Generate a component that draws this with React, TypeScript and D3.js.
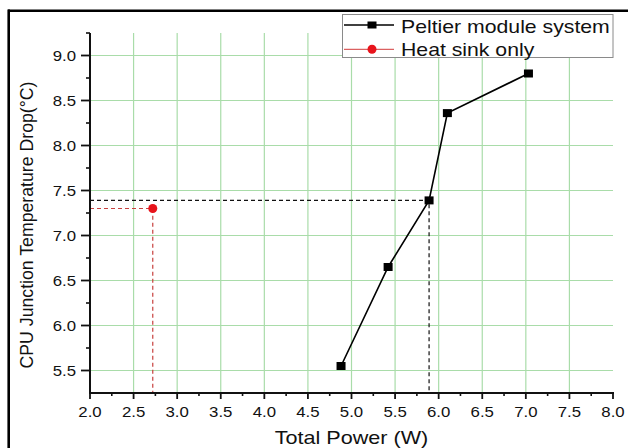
import React, { useEffect, useRef } from 'react'
import * as d3 from 'd3'

// Peltier module system
const peltierPower = [4.88, 5.42, 5.89, 6.1, 7.03]
const peltierDrop = [5.55, 6.65, 7.39, 8.36, 8.8]

// heat sink only
const sinkPower = [2.72]
const sinkDrop = [7.3]

const xTicks = [2.0, 2.5, 3.0, 3.5, 4.0, 4.5, 5.0, 5.5, 6.0, 6.5, 7.0, 7.5, 8.0]
const yTicks = [5.5, 6.0, 6.5, 7.0, 7.5, 8.0, 8.5, 9.0]
const legendLabels = ['Peltier module system', 'Heat sink only']

const FONT = '"Liberation Sans", Arial, sans-serif'
const GRID = '#a9dca9'

export default function App() {
  const anchor = useRef<SVGSVGElement>(null)

  useEffect(() => {
    const svg = d3.select(anchor.current)
    svg.selectAll('*').remove()

    const x = d3.scaleLinear().domain([2, 8]).range([90, 613])
    const y = d3.scaleLinear().domain([5.25, 9.25]).range([393, 33])

    // outer frame (only top and left edges visible)
    svg.append('line').attr('x1', 8).attr('x2', 628).attr('y1', 10.7).attr('y2', 10.7)
      .attr('stroke', '#000').attr('stroke-width', 2.6)
    svg.append('line').attr('x1', 8.7).attr('x2', 8.7).attr('y1', 9.5).attr('y2', 448)
      .attr('stroke', '#000').attr('stroke-width', 2.6)

    // grid
    const grid = svg.append('g').attr('stroke', GRID).attr('stroke-width', 1.2)
    grid.selectAll('line.v')
      .data(xTicks.filter(d => d > 2 && d < 8))
      .enter().append('line')
      .attr('x1', d => x(d)).attr('x2', d => x(d))
      .attr('y1', y(9.25)).attr('y2', y(5.25))
    grid.selectAll('line.h')
      .data(yTicks)
      .enter().append('line')
      .attr('x1', x(2)).attr('x2', x(8))
      .attr('y1', d => y(d)).attr('y2', d => y(d))

    // reference dashed lines
    const refs = [
      { px: peltierPower[2], py: peltierDrop[2], color: '#111' },
      { px: sinkPower[0], py: sinkDrop[0], color: '#c8413f' }
    ]
    refs.forEach(r => {
      svg.append('path')
        .attr('d', `M${x(2)},${y(r.py)}H${x(r.px)}V${y(5.25)}`)
        .attr('fill', 'none').attr('stroke', r.color)
        .attr('stroke-width', 1.2).attr('stroke-dasharray', '4,3')
    })

    // axes
    const xAxis = svg.append('g').attr('transform', `translate(0,${y(5.25)})`)
    xAxis.append('line').attr('x1', x(2) - 1).attr('x2', x(8) + 1)
      .attr('stroke', '#111').attr('stroke-width', 2)
    xAxis.selectAll('line.minor')
      .data(d3.range(2.25, 8, 0.5))
      .enter().append('line')
      .attr('x1', d => x(d)).attr('x2', d => x(d)).attr('y1', 0).attr('y2', 3)
      .attr('stroke', '#111').attr('stroke-width', 1.6)
    xAxis.selectAll('line.major')
      .data(xTicks)
      .enter().append('line')
      .attr('x1', d => x(d)).attr('x2', d => x(d)).attr('y1', 0).attr('y2', 6)
      .attr('stroke', '#111').attr('stroke-width', 1.8)
    xAxis.selectAll('text')
      .data(xTicks)
      .enter().append('text')
      .attr('transform', d => `translate(${x(d)},23.5) scale(1.12,1)`)
      .attr('text-anchor', 'middle')
      .style('font-family', FONT).style('font-size', '15px').attr('fill', '#111')
      .text(d => d3.format('.1f')(d))

    const yAxis = svg.append('g').attr('transform', `translate(${x(2)},0)`)
    yAxis.append('line').attr('y1', y(9.25)).attr('y2', y(5.25) + 1)
      .attr('stroke', '#111').attr('stroke-width', 2)
    yAxis.selectAll('line.minor')
      .data(d3.range(5.75, 9.5, 0.5))
      .enter().append('line')
      .attr('y1', d => y(d)).attr('y2', d => y(d)).attr('x1', 0).attr('x2', -4)
      .attr('stroke', '#111').attr('stroke-width', 1.6)
    yAxis.selectAll('line.major')
      .data(yTicks)
      .enter().append('line')
      .attr('y1', d => y(d)).attr('y2', d => y(d)).attr('x1', 0).attr('x2', -9)
      .attr('stroke', '#111').attr('stroke-width', 1.8)
    yAxis.selectAll('text')
      .data(yTicks)
      .enter().append('text')
      .attr('transform', d => `translate(-14,${y(d) + 5.3}) scale(1.12,1)`)
      .attr('text-anchor', 'end')
      .style('font-family', FONT).style('font-size', '15px').attr('fill', '#111')
      .text(d => d3.format('.1f')(d))

    // axis titles
    svg.append('text')
      .attr('transform', `translate(${(x(2) + x(8)) / 2},443.5) scale(1.2,1)`)
      .attr('text-anchor', 'middle')
      .style('font-family', FONT).style('font-size', '18px').attr('fill', '#111')
      .text('Total Power (W)')
    svg.append('text')
      .attr('transform', 'translate(33.3,225) rotate(-90)')
      .attr('text-anchor', 'middle')
      .style('font-family', FONT).style('font-size', '17.7px').attr('fill', '#111')
      .text('CPU Junction Temperature Drop(°C)')

    // Peltier series
    const pts = peltierPower.map((p, i) => [x(p), y(peltierDrop[i])] as [number, number])
    svg.append('path')
      .attr('d', d3.line()(pts))
      .attr('fill', 'none').attr('stroke', '#000').attr('stroke-width', 1.6)
    svg.selectAll('rect.pt')
      .data(pts)
      .enter().append('rect')
      .attr('x', d => d[0] - 4.5).attr('y', d => d[1] - 4)
      .attr('width', 9).attr('height', 8).attr('fill', '#000')

    // heat sink series
    svg.selectAll('circle.pt')
      .data(sinkPower.map((p, i) => [x(p), y(sinkDrop[i])]))
      .enter().append('circle')
      .attr('cx', d => d[0]).attr('cy', d => d[1]).attr('r', 4.5).attr('fill', '#e8141c')

    // legend
    const lg = svg.append('g')
    lg.append('rect').attr('x', 342.5).attr('y', 14.5).attr('width', 270.5).attr('height', 43)
      .attr('fill', '#fff').attr('stroke', '#8a8a8a').attr('stroke-width', 1)
    const rows = [
      { cy: 25, color: '#000', width: 1.6, square: true },
      { cy: 49.3, color: '#d23a3a', width: 1, square: false }
    ]
    rows.forEach((r, i) => {
      lg.append('line').attr('x1', 344).attr('x2', 394).attr('y1', r.cy).attr('y2', r.cy)
        .attr('stroke', r.color).attr('stroke-width', r.width)
      if (r.square) {
        lg.append('rect').attr('x', 367.5).attr('y', r.cy - 3.5).attr('width', 9).attr('height', 7).attr('fill', '#000')
      } else {
        lg.append('circle').attr('cx', 372).attr('cy', r.cy).attr('r', 4.5).attr('fill', '#e8141c')
      }
      lg.append('text')
        .attr('transform', `translate(401,${i === 0 ? 33 : 55.5}) scale(1.18,1)`)
        .style('font-family', FONT).style('font-size', '18px').attr('fill', '#111')
        .text(legendLabels[i])
    })
  }, [])

  return (
    <svg
      ref={anchor}
      width={628}
      height={448}
      style={{ position: 'absolute', left: 0, top: 0, background: '#fff' }}
    />
  )
}
